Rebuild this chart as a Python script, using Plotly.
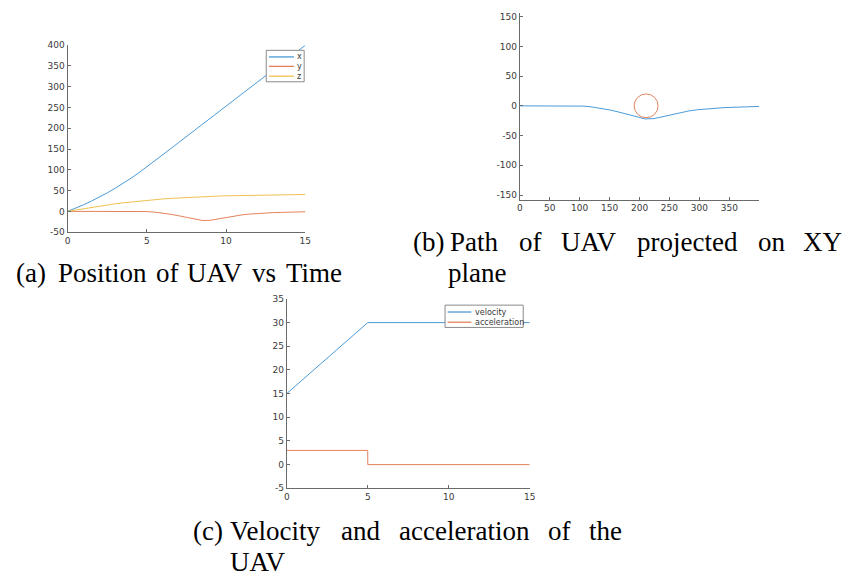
import plotly.graph_objects as go

W, H = 857, 583          # screenshot size
OFF = 8                  # default page body margin
FW, FH = W - OFF, H - OFF

# ---------------- data ----------------
time_s = [0, 0.5, 1, 1.5, 2, 2.5, 3, 3.5, 4, 4.5, 5, 5.5, 6, 6.5, 7, 7.5,
          8, 8.5, 9, 9.5, 10, 10.5, 11, 11.5, 12, 12.5, 13, 13.5, 14, 14.5, 15]
pos_x = [0, 7.5, 15.7, 24.6, 34.2, 44.5, 55.6, 67.3, 79.8, 93.0, 106.9,
         121.5, 136.2, 150.8, 165.5, 180.1, 194.8, 209.4, 224.1, 238.7, 253.4,
         268.0, 282.7, 297.3, 312.0, 326.6, 341.3, 355.9, 370.6, 385.2, 399.9]
pos_y = [0, 0, 0, 0, 0, 0, 0, 0, 0, -0.1, -0.5,
         -2, -4, -7, -10.5, -14, -18, -22, -21.5, -18, -14.5,
         -11, -8.5, -6.5, -5, -4, -3, -2.5, -2, -1.5, -1]
pos_z = [0, 3.3, 6.6, 9.7, 12.7, 15.5, 18.2, 20.6, 22.8, 24.8, 26.6,
         28.3, 29.8, 31.2, 32.4, 33.5, 34.5, 35.4, 36.1, 36.8, 37.4,
         37.9, 38.3, 38.7, 39.0, 39.3, 39.6, 39.9, 40.1, 40.3, 40.6]

vel_t = [0, 5, 15]
velocity = [15, 30, 30]
acc_t = [0, 5, 5, 15]
acceleration = [3, 3, 0, 0]

obstacle_x, obstacle_y, obstacle_r = 211, 0, 20

ticks_a_x = [0, 5, 10, 15]
ticks_a_y = [-50, 0, 50, 100, 150, 200, 250, 300, 350, 400]
ticks_b_x = [0, 50, 100, 150, 200, 250, 300, 350]
ticks_b_y = [-150, -100, -50, 0, 50, 100, 150]
ticks_c_x = [0, 5, 10, 15]
ticks_c_y = [-5, 0, 5, 10, 15, 20, 25, 30, 35]

legend_a = ["x", "y", "z"]
legend_c = ["velocity", "acceleration"]

caption_a = [["(a)", "Position", "of", "UAV", "vs", "Time"]]
caption_b = [["(b)", "Path", "of", "UAV", "projected", "on", "XY"], ["plane"]]
caption_c = [["(c)", "Velocity", "and", "acceleration", "of", "the"], ["UAV"]]

# ---------------- style ----------------
BLUE = "#4b9bd8"
ORANGE = "#e5825c"
YELLOW = "#efc150"
AXC = "#6a6a6a"
TXT = "#3a3a3a"


def px(x):
    return (x - OFF) / FW


def py(y):
    return 1 - (y - OFF) / FH


fig = go.Figure()

# (a) position vs time
fig.add_trace(go.Scatter(x=time_s, y=pos_x, mode="lines", line=dict(color=BLUE, width=1), xaxis="x", yaxis="y"))
fig.add_trace(go.Scatter(x=time_s, y=pos_y, mode="lines", line=dict(color=ORANGE, width=1), xaxis="x", yaxis="y"))
fig.add_trace(go.Scatter(x=time_s, y=pos_z, mode="lines", line=dict(color=YELLOW, width=1), xaxis="x", yaxis="y"))

# (b) XY path
fig.add_trace(go.Scatter(x=pos_x, y=pos_y, mode="lines", line=dict(color=BLUE, width=1), xaxis="x2", yaxis="y2"))

# (c) velocity & acceleration
fig.add_trace(go.Scatter(x=vel_t, y=velocity, mode="lines", line=dict(color=BLUE, width=1), xaxis="x3", yaxis="y3"))
fig.add_trace(go.Scatter(x=acc_t, y=acceleration, mode="lines", line=dict(color=ORANGE, width=1), xaxis="x3", yaxis="y3"))


def axis(domain, rng, tv, anchor):
    return dict(domain=domain, range=rng, tickvals=tv, ticktext=[str(v) for v in tv],
                anchor=anchor, showline=True, linecolor=AXC, linewidth=1,
                ticks="inside", ticklen=3, tickcolor=AXC, showgrid=False, zeroline=False,
                tickfont=dict(family="DejaVu Sans", size=9, color=TXT), fixedrange=True)


shapes = []
annotations = []

# obstacle circle in (b)
shapes.append(dict(type="circle", xref="x2", yref="y2",
                   x0=obstacle_x - obstacle_r, x1=obstacle_x + obstacle_r,
                   y0=obstacle_y - obstacle_r, y1=obstacle_y + obstacle_r,
                   line=dict(color=ORANGE, width=1)))


def legend_box(x0, x1, y0, y1, rows, labels, colors, lx0, lx1, tx):
    shapes.append(dict(type="rect", xref="paper", yref="paper", layer="above",
                       x0=px(x0), x1=px(x1), y0=py(y1), y1=py(y0),
                       line=dict(color="#8a8a8a", width=1), fillcolor="white"))
    for ry, lab, col in zip(rows, labels, colors):
        shapes.append(dict(type="line", xref="paper", yref="paper", layer="above",
                           x0=px(lx0), x1=px(lx1), y0=py(ry), y1=py(ry),
                           line=dict(color=col, width=1.3)))
        annotations.append(dict(x=px(tx), y=py(ry), xref="paper", yref="paper",
                                text=lab, showarrow=False, xanchor="left", yanchor="middle",
                                borderpad=0,
                                font=dict(family="DejaVu Sans", size=8, color=TXT)))


legend_box(266, 304.3, 46, 78, [52.7, 62.3, 72.3], legend_a, [BLUE, ORANGE, YELLOW], 268.7, 294, 296.5)
legend_box(446.7, 525.7, 305.3, 328, [312.3, 322.7], legend_c, [BLUE, ORANGE], 449.3, 473.3, 475.5)


def caption(lines, centers, ys):
    for words, cs, yy in zip(lines, centers, ys):
        for w, c in zip(words, cs):
            annotations.append(dict(x=px(c), y=py(yy), xref="paper", yref="paper",
                                    text=w, showarrow=False, xanchor="center", yanchor="middle",
                                    borderpad=0,
                                    font=dict(family="Liberation Serif", size=27, color="black")))


caption(caption_a, [[28.3, 100.1, 165.7, 214.2, 264.0, 314.2]], [272.5])
caption(caption_b, [[429.9, 476.7, 533.4, 591.8, 692.0, 776.8, 828.6], [479.3]], [241.5, 272.5])
caption(caption_c, [[207.4, 275.0, 360.8, 466.8, 562.4, 608.9], [257.3]], [535.5, 566.5])

fig.update_layout(
    width=FW, height=FH, margin=dict(l=0, r=0, t=0, b=0),
    paper_bgcolor="white", plot_bgcolor="white", showlegend=False,
    xaxis=axis([px(65.2), px(305.5)], [0, 15], ticks_a_x, "y"),
    yaxis=axis([py(231), py(40.8)], [-50, 400], ticks_a_y, "x"),
    xaxis2=axis([px(522.3), px(764.2)], [0, 399.9], ticks_b_x, "y2"),
    yaxis2=axis([py(198), py(8.3)], [-157.8, 155.6], ticks_b_y, "x2"),
    xaxis3=axis([px(286.7), px(532.3)], [0, 15], ticks_c_x, "y3"),
    yaxis3=axis([py(491.7), py(299)], [-5, 35], ticks_c_y, "x3"),
    shapes=shapes, annotations=annotations,
)

fig.write_html("out.html")
